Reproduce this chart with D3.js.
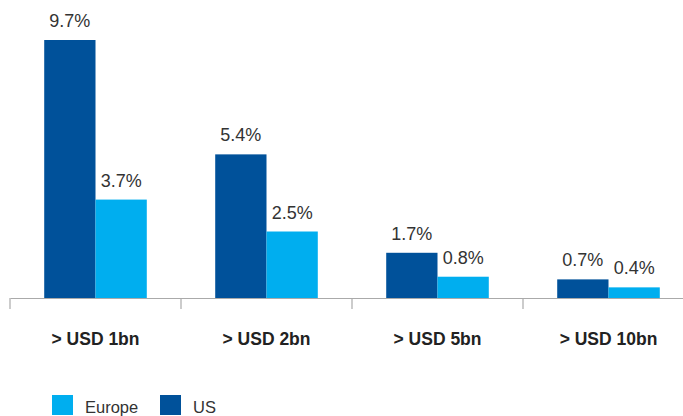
<!DOCTYPE html>
<html><head><meta charset="utf-8">
<script src="https://cdn.jsdelivr.net/npm/d3@7"></script>
<style>body{margin:0;background:#fff;}svg{display:block;}</style>
</head><body>
<svg id="c" width="683" height="416"></svg>
<script>
const categories = ["> USD 1bn", "> USD 2bn", "> USD 5bn", "> USD 10bn"];
const seriesNames = ["US", "Europe"];
const usValues = [9.7, 5.4, 1.7, 0.7];
const europeValues = [3.7, 2.5, 0.8, 0.4];
const valueLabels = {US: ["9.7%", "5.4%", "1.7%", "0.7%"], Europe: ["3.7%", "2.5%", "0.8%", "0.4%"]};
const colors = {US: "#00519A", Europe: "#00AEEF"};
const legendOrder = ["Europe", "US"];

const svg = d3.select("#c");
const baseY = 298;
const x0 = d3.scaleBand().domain(categories).range([10, 694]).paddingInner(0).paddingOuter(0);
const x1 = d3.scaleBand().domain(seriesNames).range([0, x0.bandwidth()]).paddingInner(0).paddingOuter(0.667);
const y = d3.scaleLinear().domain([0, 9.7]).range([baseY, 40]);

const data = categories.map((c, i) => ({cat: c, US: usValues[i], Europe: europeValues[i], i}));

const g = svg.selectAll("g.grp").data(data).enter().append("g")
  .attr("transform", d => `translate(${x0(d.cat)},0)`);

g.selectAll("rect").data(d => seriesNames.map(s => ({s, v: d[s], i: d.i}))).enter().append("rect")
  .attr("x", d => x1(d.s)).attr("width", x1.bandwidth())
  .attr("y", d => y(d.v)).attr("height", d => baseY - y(d.v))
  .attr("fill", d => colors[d.s]);

g.selectAll("text.val").data(d => seriesNames.map(s => ({s, v: d[s], i: d.i}))).enter().append("text")
  .attr("class", "val")
  .attr("x", d => x1(d.s) + x1.bandwidth() / 2)
  .attr("y", d => y(d.v) - 13)
  .attr("text-anchor", "middle")
  .attr("font-family", "Liberation Sans, Arial, sans-serif")
  .attr("font-size", 18)
  .attr("fill", "#333")
  .text(d => valueLabels[d.s][d.i]);

// axis
const axis = d3.axisBottom(x0).tickSize(11).tickSizeOuter(0).tickFormat("");
const ag = svg.append("g").attr("transform", `translate(0,${baseY})`).call(axis);
ag.select(".domain").attr("stroke", "#aaa").attr("stroke-width", 1.2);
ag.selectAll(".tick").attr("transform", d => `translate(${x0(d)},0)`);
ag.selectAll(".tick line").attr("stroke", "#aaa").attr("stroke-width", 1.2);

svg.selectAll("text.cat").data(categories).enter().append("text")
  .attr("class", "cat")
  .attr("x", d => x0(d) + x0.bandwidth() / 2)
  .attr("y", 345)
  .attr("text-anchor", "middle")
  .attr("font-family", "Liberation Sans, Arial, sans-serif")
  .attr("font-weight", "bold")
  .attr("font-size", 17.5)
  .attr("fill", "#222")
  .text(d => d);

// legend
const legendX = [52, 160];
const lg = svg.selectAll("g.leg").data(legendOrder).enter().append("g")
  .attr("transform", (d, i) => `translate(${legendX[i]},395)`);
lg.append("rect").attr("width", 21).attr("height", 20).attr("fill", d => colors[d]);
lg.append("text").attr("x", 33).attr("y", 18)
  .attr("font-family", "Liberation Sans, Arial, sans-serif")
  .attr("font-size", 16.5).attr("fill", "#333").text(d => d);
</script>
</body></html>
